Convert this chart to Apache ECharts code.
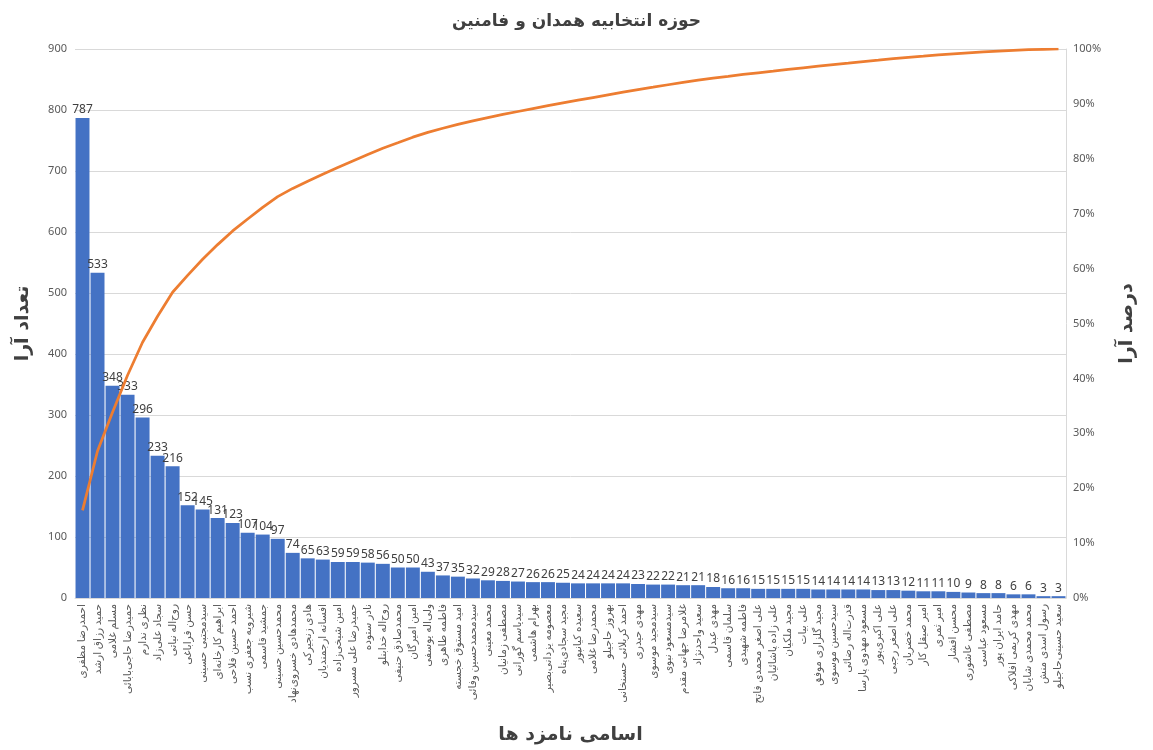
<!DOCTYPE html>
<html>
<head>
	<meta charset="UTF-8">
	<title>حوزه انتخابیه همدان و فامنین</title>
	<script src="https://cdn.jsdelivr.net/npm/echarts@6/dist/echarts.min.js"></script>
	<style type="text/css">
		html,body{margin:0; padding:0; height:100%; background:#fff;}
		#chart1{width:1153px; height:750px;}
	</style>
</head>
<body>
	<div id="chart1"></div>
	<script type="text/javascript">
		// نام نامزدها (به ترتیب آرا)
		var names = [
			'احمدرضا مظفری', 'حمید رزاق ارشد', 'مسلم غلامی', 'حمیدرضا حاجی‌بابائی', 'نظری ندارم',
			'سجاد علی‌زاد', 'روح‌اله نیاتی', 'حسن قراباغی', 'سیدمجتبی حسینی', 'ابراهیم کارخانه‌ای',
			'احمد حسین فلاحی', 'شیرویه جعفری نسب', 'جمشید قاسمی', 'محمدحسین حسینی', 'محمدهادی خسروی‌نهاد',
			'هادی زنجیرکی', 'افسانه ارجمندیان', 'امین شیخی‌زاده', 'حمیدرضا علی مسرور', 'نادر ستوده',
			'روح‌اله خدابنلو', 'محمدصادق حنیفی', 'امین امیرگان', 'ولی‌اله یوسفی', 'فاطمه طاهری',
			'امید مستوق خجسته', 'سیدمحمدحسین وفائی', 'محمد معینی', 'مصطفی زمانیان', 'سیدیاسم گورانی',
			'بهرام هاشمی', 'معصومه یزدانی‌بصیر', 'مجید سجادی‌پناه', 'سعیده کیانپور', 'محمدرضا غلامی',
			'بهروز حاجیلو', 'احمد کربلائی حسنخانی', 'مهدی حیدری', 'سیدمجید موسوی', 'سیدمسعود نبوی',
			'غلامرضا جهانی مقدم', 'سعید واحدنژاد', 'مهدی عبدل', 'سلمان قاسمی', 'فاطمه شهیدی',
			'علی اصغر محمدی فاتح', 'علی زاده پاشائیان', 'مجید ملکیان', 'علی بیات', 'مجید گلزاری موفق',
			'سیدحسین موسوی', 'قدرت‌اله رضائی', 'مسعود مهدوی پارسا', 'علی اکبری‌پور', 'علی اصغر رجبی',
			'محمد خضریان', 'امیر صیقل کار', 'امیر ثمری', 'محسن افشار', 'مصطفی عاشوری',
			'مسعود عباسی', 'حامد ایران پور', 'مهدی کریمی افلاکی', 'محمد محمدی شایان', 'رسول اسدی منش',
			'سعید حسینی‌حاجیلو'
		];

		// تعداد آرا
		var votes = [
			787, 533, 348, 333, 296, 233, 216, 152, 145, 131,
			123, 107, 104, 97, 74, 65, 63, 59, 59, 58,
			56, 50, 50, 43, 37, 35, 32, 29, 28, 27,
			26, 26, 25, 24, 24, 24, 24, 23, 22, 22,
			21, 21, 18, 16, 16, 15, 15, 15, 15, 14,
			14, 14, 14, 13, 13, 12, 11, 11, 10, 9,
			8, 8, 6, 6, 3, 3
		];

		// درصد تجمعی آرا
		var cumPercent = [
			15.96, 26.77, 33.83, 40.58, 46.58, 51.31, 55.69, 58.77, 61.71, 64.37,
			66.86, 69.03, 71.14, 73.11, 74.61, 75.93, 77.20, 78.40, 79.60, 80.77,
			81.91, 82.92, 83.94, 84.81, 85.56, 86.27, 86.92, 87.51, 88.08, 88.62,
			89.15, 89.68, 90.18, 90.67, 91.16, 91.65, 92.13, 92.60, 93.04, 93.49,
			93.92, 94.34, 94.71, 95.03, 95.36, 95.66, 95.96, 96.27, 96.57, 96.86,
			97.14, 97.42, 97.71, 97.97, 98.24, 98.48, 98.70, 98.93, 99.13, 99.31,
			99.47, 99.63, 99.76, 99.88, 99.94, 100
		];

		var font = '"Noto Sans", "DejaVu Sans", sans-serif';
		var boldFont = '"DejaVu Sans", sans-serif';
		var myChart = echarts.init(document.getElementById('chart1'), null, {renderer:'canvas'});

		var option = {
			backgroundColor: '#fff',
			animation: false,
			textStyle: {fontFamily: font},
			title: {
				text: 'حوزه انتخابیه همدان و فامنین',
				left: 'center',
				top: 8,
				textStyle: {fontSize: 17, fontWeight: 'bold', color: '#404040', fontFamily: boldFont}
			},
			grid: {left: 75, right: 87, top: 49, bottom: 151, containLabel: false},
			xAxis: {
				type: 'category',
				data: names,
				name: 'اسامی نامزد ها',
				nameLocation: 'middle',
				nameGap: 128,
				nameTextStyle: {fontSize: 19, fontWeight: 'bold', color: '#404040', fontFamily: boldFont},
				axisLine: {lineStyle: {color: '#d9d9d9'}},
				axisTick: {show: false},
				axisLabel: {interval: 0, rotate: 90, fontSize: 10.5, color: '#595959', margin: 6}
			},
			yAxis: [
				{
					type: 'value',
					min: 0,
					max: 900,
					interval: 100,
					name: 'تعداد آرا',
					nameLocation: 'middle',
					nameGap: 42,
					nameRotate: 90,
					nameTextStyle: {fontSize: 19, fontWeight: 'bold', color: '#404040', fontFamily: boldFont},
					axisLine: {show: false},
					axisTick: {show: false},
					axisLabel: {fontSize: 11, color: '#595959', margin: 8},
					splitLine: {lineStyle: {color: '#d9d9d9'}}
				},
				{
					type: 'value',
					min: 0,
					max: 100,
					interval: 10,
					name: 'درصد آرا',
					nameLocation: 'middle',
					nameGap: 52,
					nameRotate: 90,
					nameTextStyle: {fontSize: 19, fontWeight: 'bold', color: '#404040', fontFamily: boldFont},
					axisLine: {show: true, lineStyle: {color: '#d9d9d9'}},
					axisTick: {show: false},
					axisLabel: {fontSize: 11, color: '#595959', margin: 7, formatter: '{value}%'},
					splitLine: {show: false}
				}
			],
			series: [
				{
					name: 'تعداد آرا',
					type: 'bar',
					data: votes,
					barCategoryGap: '7%',
					itemStyle: {color: '#4472C4'},
					label: {show: true, position: 'top', distance: 2, fontSize: 12, color: '#404040'}
				},
				{
					name: 'درصد آرا',
					type: 'line',
					yAxisIndex: 1,
					data: cumPercent,
					showSymbol: false,
					lineStyle: {color: '#ED7D31', width: 2.75},
					itemStyle: {color: '#ED7D31'},
					z: 3
				}
			]
		};
		myChart.setOption(option);
	</script>
</body>
</html>
